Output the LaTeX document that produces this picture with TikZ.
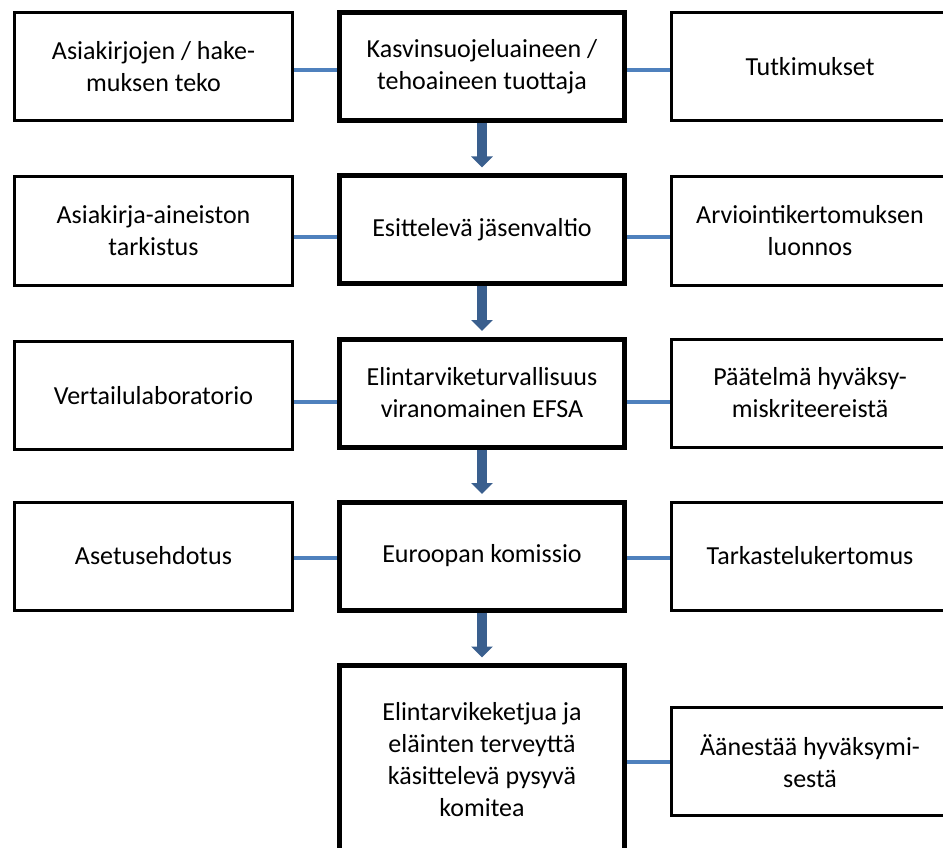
\documentclass[tikz,border=0pt]{standalone}
\usepackage{fontspec}
\setmainfont{Carlito}
\usetikzlibrary{arrows.meta}
\definecolor{linkblue}{RGB}{79,129,189}
\definecolor{arrowblue}{RGB}{58,95,142}
\begin{document}
\begin{tikzpicture}[x=1pt,y=-1pt,
  txt/.style={font=\fontsize{26}{32}\selectfont, align=center, inner sep=0pt},
  sidebox/.style={txt, draw=black, line width=3pt, minimum width=278pt, minimum height=108pt},
  midbox/.style={txt, draw=black, line width=5pt, minimum width=285pt, minimum height=108pt},
  rightbox/.style={sidebox, minimum width=277pt},
  link/.style={draw=linkblue, line width=4pt},
  flow/.style={draw=arrowblue, line width=10pt, -{Triangle[width=21pt,length=11pt]}}]
\useasboundingbox (0,0) rectangle (943,848);
\clip (0,0) rectangle (943,848);
% middle column
\node[midbox] (m1) at (482,66.5) {Kasvinsuojeluaineen /\\tehoaineen tuottaja};
\node[midbox] (m2) at (482,229.5) {Esittelevä jäsenvaltio};
\node[midbox] (m3) at (482,393) {Elintarviketurvallisuus\\viranomainen EFSA};
\node[midbox] (m4) at (482,556) {Euroopan komissio};
\node[midbox, minimum height=195pt] (m5) at (482,763) {};
\node[txt] (m5t) at (482,760) {Elintarvikeketjua ja\\eläinten terveyttä\\käsittelevä pysyvä\\komitea};
% left column
\node[sidebox] (l1) at (153.5,66.5) {Asiakirjojen / hake-\\muksen teko};
\node[sidebox] (l2) at (153.5,231) {Asiakirja-aineiston\\tarkistus};
\node[sidebox] (l3) at (153.5,395.5) {Vertailulaboratorio};
\node[sidebox] (l4) at (153.5,556) {Asetusehdotus};
% right column
\node[rightbox] (r1) at (810,66.5) {Tutkimukset};
\node[rightbox] (r2) at (810,231) {Arviointikertomuksen\\luonnos};
\node[rightbox] (r3) at (810,393) {Päätelmä hyväksy-\\miskriteereistä};
\node[rightbox] (r4) at (810,556) {Tarkastelukertomus};
\node[rightbox] (r5) at (810,761.5) {Äänestää hyväksymi-\\sestä};
% connectors
\draw[link] (l1.east |- 0,70) -- (m1.west |- 0,70);
\draw[link] (m1.east |- 0,70) -- (r1.west |- 0,70);
\draw[link] (l2.east |- 0,237) -- (m2.west |- 0,237);
\draw[link] (m2.east |- 0,237) -- (r2.west |- 0,237);
\draw[link] (l3.east |- 0,402) -- (m3.west |- 0,402);
\draw[link] (m3.east |- 0,402) -- (r3.west |- 0,402);
\draw[link] (l4.east |- 0,558) -- (m4.west |- 0,558);
\draw[link] (m4.east |- 0,558) -- (r4.west |- 0,558);
\draw[link] (m5.east |- 0,762) -- (r5.west |- 0,762);
% flow arrows
\draw[flow] (m1.south) -- ([yshift=5.5pt]m2.north);
\draw[flow] (m2.south) -- ([yshift=5.5pt]m3.north);
\draw[flow] (m3.south) -- ([yshift=5.5pt]m4.north);
\draw[flow] (m4.south) -- ([yshift=5.5pt]m5.north);
\end{tikzpicture}
\end{document}
